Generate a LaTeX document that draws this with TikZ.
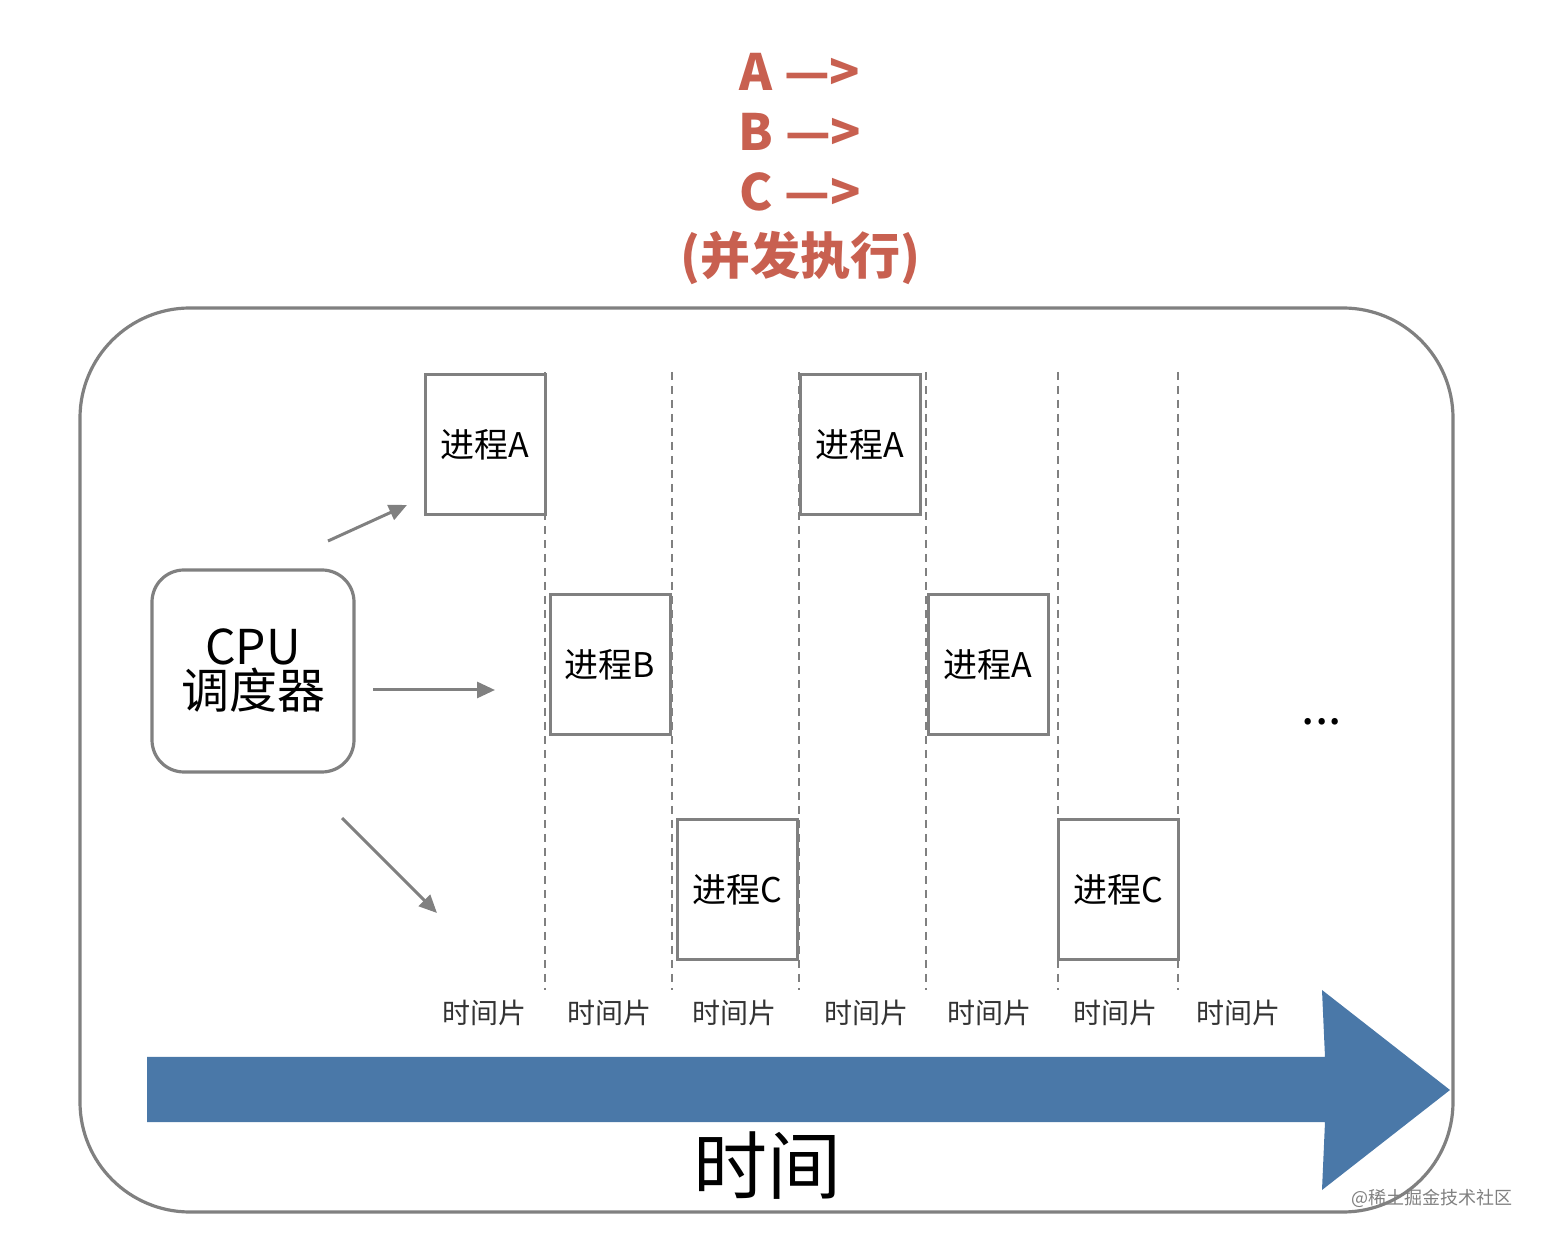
\documentclass[tikz,border=0pt]{standalone}
\usepackage{fontspec}
\setmainfont{Noto Sans CJK SC}
\usetikzlibrary{arrows.meta}
\definecolor{rd}{RGB}{200,96,80}
\definecolor{gr}{RGB}{128,128,128}
\definecolor{bl}{RGB}{74,120,168}
\newcommand{\fs}[1]{\fontsize{#1}{#1}\selectfont}
\begin{document}
\begin{tikzpicture}[x=0.5pt,y=-0.5pt,
  proc/.style={draw=gr,line width=1.5pt,fill=white,minimum width=60pt,minimum height=70pt,inner sep=0pt,font=\fs{17}},
  vsep/.style={gr,line width=1.2pt,dash pattern=on 4pt off 3pt},
  arr/.style={gr,line width=1.5pt,-{Triangle[length=9pt,width=8pt]}},
  slice/.style={font=\fs{14},text=black!80},
  ttl/.style={text=rd,font=\bfseries\fs{25}}]
\useasboundingbox (0,0) rectangle (1544,1240);
\node[ttl] (ta) at (800,72) {A —>};
\node[ttl] (tb) at (800,132) {B —>};
\node[ttl] (tc) at (800,192) {C —>};
\node[ttl] (td) at (800,258) {(并发执行)};
\draw[gr,line width=1.6pt,rounded corners=55pt] (80,308) rectangle (1453,1212);
\node[draw=gr,line width=1.6pt,rounded corners=16pt,minimum width=101pt,minimum height=101pt,align=center,font=\fs{24},inner sep=0pt] (cpu) at (253,671) {CPU\\[-2pt]调度器};
\coordinate (s1) at (328,541); \coordinate (e1) at (407,505);
\coordinate (s2) at (373,690); \coordinate (e2) at (495,690);
\coordinate (s3) at (342,818); \coordinate (e3) at (437,913);
\draw[arr] (s1)--(e1); \draw[arr] (s2)--(e2); \draw[arr] (s3)--(e3);
\foreach \x in {545,672,799,926,1058,1178}{\draw[vsep] (\x,372)--(\x,990);}
\node[proc] (a1) at (485,445) {进程A};
\node[proc] (b1) at (610,665) {进程B};
\node[proc] (c1) at (737,890) {进程C};
\node[proc] (a2) at (860,445) {进程A};
\node[proc] (a3) at (988,665) {进程A};
\node[proc] (c2) at (1118,890) {进程C};
\foreach \x/\n in {484/1,609/2,734/3,866/4,989/5,1115/6,1238/7}{\node[slice] (ts\n) at (\x,1013) {时间片};}
\node[font=\fs{24}] (dots) at (1322,722) {...};
\fill[bl] (147,1057) -- (1325,1057) -- (1322,990) -- (1450,1090) -- (1322,1190) -- (1325,1122) -- (147,1122) -- cycle;
\node[font=\fs{37}] (time) at (767,1166) {时间};
\node[font=\fs{9},text=gr] (wm) at (1432,1198) {@稀土掘金技术社区};
\end{tikzpicture}
\end{document}
